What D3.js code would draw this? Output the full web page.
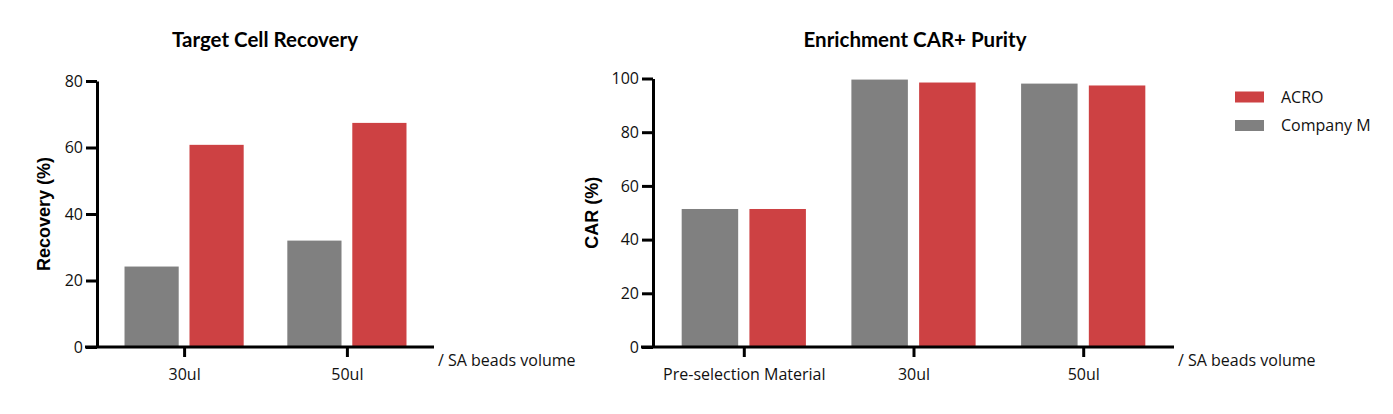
<!DOCTYPE html>
<html>
<head>
<meta charset="utf-8">
<script src="https://cdn.jsdelivr.net/npm/d3@7"></script>
<style>
  body { margin: 0; background: #fff; }
  svg { display: block; }
  .tick-label, .cat-label, .unit-label, .legend-label { font-family: "Open Sans", sans-serif; font-size: 16px; fill: #111; }
  .title { font-family: Lato, sans-serif; font-weight: bold; font-size: 20.5px; fill: #000; }
  .y-title { font-family: "Liberation Sans", Arial, sans-serif; font-weight: bold; font-size: 18px; fill: #000; }
</style>
</head>
<body>
<div id="chart"></div>
<script>
const series = ["Company M", "ACRO"];
const colors = { "Company M": "#808080", "ACRO": "#cd4143" };

const recoveryGroups = ["30ul", "50ul"];
const recoveryCompanyM = [24.2, 32.0];
const recoveryAcro = [60.8, 67.4];
const recoveryTicks = [0, 20, 40, 60, 80];

const purityGroups = ["Pre-selection Material", "30ul", "50ul"];
const purityCompanyM = [51.4, 99.6, 98.1];
const purityAcro = [51.4, 98.5, 97.4];
const purityTicks = [0, 20, 40, 60, 80, 100];

const legendOrder = ["ACRO", "Company M"];

const width = 1393;
const height = 414;

const svg = d3.select("#chart")
  .append("svg")
  .attr("width", width)
  .attr("height", height);

function drawPanel(opts) {
  const rows = opts.groups.map((g, i) => ({
    group: g,
    values: [
      { key: "Company M", value: opts.companyM[i] },
      { key: "ACRO", value: opts.acro[i] }
    ]
  }));

  const x = d3.scalePoint()
    .domain(opts.groups)
    .range([opts.left, opts.right])
    .padding(0.535);

  const groupWidth = x.step() * 0.732;

  const xInner = d3.scaleBand()
    .domain(series)
    .range([-groupWidth / 2, groupWidth / 2])
    .paddingInner(0.166);

  const y = d3.scaleLinear()
    .domain([0, opts.max])
    .range([opts.bottom, opts.top]);

  const g = svg.append("g");

  // bars
  g.selectAll(".grp")
    .data(rows)
    .enter()
    .append("g")
    .attr("transform", d => `translate(${x(d.group)},0)`)
    .selectAll("rect")
    .data(d => d.values)
    .enter()
    .append("rect")
    .attr("x", d => xInner(d.key))
    .attr("width", xInner.bandwidth())
    .attr("y", d => y(d.value))
    .attr("height", d => y(0) - y(d.value))
    .attr("fill", d => colors[d.key]);

  // y axis
  const yAxis = g.append("g")
    .attr("transform", `translate(${opts.left},0)`)
    .call(d3.axisLeft(y).tickValues(opts.ticks).tickSize(11).tickPadding(3).tickSizeOuter(0));
  yAxis.select(".domain").attr("stroke-width", 3).attr("stroke", "#000");
  yAxis.selectAll(".tick line").attr("stroke-width", 3).attr("stroke", "#000");
  yAxis.selectAll(".tick text").attr("class", "tick-label").attr("font-size", null).attr("font-family", null);

  // x axis
  const xAxis = g.append("g")
    .attr("transform", `translate(0,${opts.bottom})`)
    .call(d3.axisBottom(x).tickSize(10).tickPadding(12).tickSizeOuter(0));
  xAxis.select(".domain")
    .attr("d", `M${opts.left - 12},0H${opts.right}`)
    .attr("stroke-width", 3).attr("stroke", "#000");
  xAxis.selectAll(".tick line").attr("stroke-width", 3).attr("stroke", "#000");
  xAxis.selectAll(".tick text").attr("class", "cat-label").attr("font-size", null).attr("font-family", null);

  g.append("text")
    .attr("class", "unit-label")
    .attr("x", opts.right + 4)
    .attr("y", opts.bottom + 19)
    .text("/ SA beads volume");

  g.append("text")
    .attr("class", "title")
    .attr("text-anchor", "middle")
    .attr("x", opts.titleX)
    .attr("y", 47)
    .text(opts.title);

  g.append("text")
    .attr("class", "y-title")
    .attr("text-anchor", "middle")
    .attr("dominant-baseline", "central")
    .attr("transform", `translate(${opts.yTitleX},${(opts.top + opts.bottom) / 2}) rotate(-90)`)
    .text(opts.yTitle);
}

drawPanel({
  groups: recoveryGroups,
  companyM: recoveryCompanyM,
  acro: recoveryAcro,
  ticks: recoveryTicks,
  max: 80,
  left: 97, right: 434, top: 81, bottom: 347,
  title: "Target Cell Recovery", titleX: 265,
  yTitle: "Recovery (%)", yTitleX: 44
});

drawPanel({
  groups: purityGroups,
  companyM: purityCompanyM,
  acro: purityAcro,
  ticks: purityTicks,
  max: 100,
  left: 653, right: 1174, top: 78.5, bottom: 347,
  title: "Enrichment CAR+ Purity", titleX: 915,
  yTitle: "CAR (%)", yTitleX: 592
});

// legend
const legend = svg.append("g")
  .selectAll("g")
  .data(legendOrder)
  .enter()
  .append("g")
  .attr("transform", (d, i) => `translate(1235,${97 + i * 28.5})`);

legend.append("rect")
  .attr("y", -5.5)
  .attr("width", 29)
  .attr("height", 11)
  .attr("fill", d => colors[d]);

legend.append("text")
  .attr("class", "legend-label")
  .attr("x", 46)
  .attr("dy", "0.35em")
  .text(d => d);
</script>
</body>
</html>
